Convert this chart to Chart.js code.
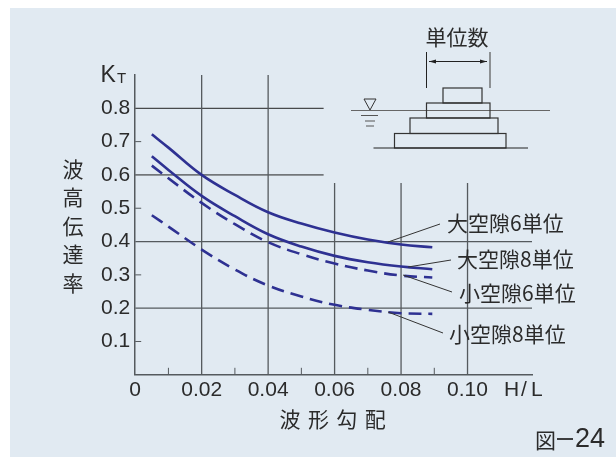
<!DOCTYPE html>
<html>
<head>
<meta charset="utf-8">
<script src="https://cdn.jsdelivr.net/npm/chart.js@4"></script>
<style>
html, body { margin: 0; padding: 0; background: #fff; overflow: hidden; }
#wrap { width: 616px; height: 457px; position: relative; }
#panel { position: absolute; left: 10px; top: 8px; right: 0; bottom: 0; background: #e1eaf2; }
canvas { position: absolute; left: 0; top: 0; }
</style>
</head>
<body>
<div id="wrap"><div id="panel"></div><canvas id="myChart" width="616" height="457"></canvas></div>
<script>
// wave steepness H/L against transmission coefficient KT
const steepness = [0.005, 0.01, 0.02, 0.03, 0.04, 0.05, 0.06, 0.07, 0.08, 0.0894];
const large6 = [0.722, 0.682, 0.600, 0.540, 0.488, 0.454, 0.427, 0.406, 0.391, 0.383];
const large8 = [0.656, 0.615, 0.537, 0.476, 0.422, 0.385, 0.357, 0.338, 0.325, 0.317];
const small6 = [0.628, 0.590, 0.516, 0.452, 0.398, 0.362, 0.334, 0.313, 0.298, 0.292];
const small8 = [0.479, 0.445, 0.376, 0.316, 0.268, 0.235, 0.210, 0.195, 0.185, 0.183];

const xTickLabels = ['0', '0.02', '0.04', '0.06', '0.08', '0.10'];
const yTickLabels = ['0.1', '0.2', '0.3', '0.4', '0.5', '0.6', '0.7', '0.8'];

// grid lines only run part of the way in the original
const longVertical = [0.02, 0.04];
const shortVertical = [0.06, 0.08, 0.10];
const minorX = [0.01, 0.03, 0.05, 0.07, 0.09];
const minorY = [0.1, 0.3, 0.5, 0.7];
const xMax = 0.1194, yMax = 0.9;
const shortVerticalTop = 0.576, shortHorizontalEnd = 0.0567;

const BLUE = '#2e3192';
const INK = '#2b2b2b';
const GRID = '#555a5e';
const JP = '"Noto Sans CJK JP"';
const LATIN = '"Liberation Sans"';

function pts(ys) {
    return steepness.map((x, i) => ({ x: x, y: ys[i] }));
}
function curve(ys, dash) {
    return {
        data: pts(ys), borderColor: BLUE, borderWidth: 2.6, borderDash: dash,
        pointRadius: 0, tension: 0.4, fill: false, order: 1
    };
}
function rule(a, b, color, width) {
    return {
        data: [a, b], borderColor: color, borderWidth: width,
        pointRadius: 0, fill: false, order: 2
    };
}

const datasets = [
    curve(large6, []),
    curve(large8, []),
    curve(small6, [13, 7]),
    curve(small8, [13, 7])
];
for (let x of longVertical) {
    datasets.push(rule({ x: x, y: 0 }, { x: x, y: yMax }, GRID, 1.3));
}
for (let x of shortVertical) {
    datasets.push(rule({ x: x, y: 0 }, { x: x, y: shortVerticalTop }, GRID, 1.3));
}
datasets.push(rule({ x: 0, y: 0.8 }, { x: shortHorizontalEnd, y: 0.8 }, '#222', 1));
datasets.push(rule({ x: 0, y: 0.6 }, { x: shortHorizontalEnd, y: 0.6 }, '#222', 1));
datasets.push(rule({ x: 0, y: 0.4 }, { x: xMax, y: 0.4 }, GRID, 1.2));
datasets.push(rule({ x: 0, y: 0.2 }, { x: xMax, y: 0.2 }, GRID, 1.2));

// labels, leader lines and the small breakwater sketch
const overlay = {
    id: 'overlay',
    afterDraw(chart) {
        const c = chart.ctx;
        const sx = chart.scales.x, sy = chart.scales.y;
        function line(x1, y1, x2, y2, w, col) {
            c.beginPath();
            c.moveTo(x1, y1);
            c.lineTo(x2, y2);
            c.lineWidth = w;
            c.strokeStyle = col || INK;
            c.stroke();
        }
        function text(s, x, y, size, font, align) {
            c.font = size + 'px ' + font;
            c.fillStyle = INK;
            c.textAlign = align || 'left';
            c.textBaseline = 'middle';
            c.fillText(s, x, y);
        }
        c.save();

        // minor ticks pointing into the plot
        for (let v of minorX) {
            line(sx.getPixelForValue(v), sy.bottom, sx.getPixelForValue(v), sy.bottom - 7, 1, GRID);
        }
        for (let v of minorY) {
            line(sx.left, sy.getPixelForValue(v), sx.left + 6, sy.getPixelForValue(v), 1, GRID);
        }

        // axis captions
        text('K', 100.5, 76, 23, LATIN);
        text('T', 117, 79, 15, LATIN);
        text('H', 504, 390, 21, LATIN);
        text('/', 521, 390, 21, LATIN);
        text('L', 531, 390, 21, LATIN);
        ['波', '高', '伝', '達', '率'].forEach((s, i) => text(s, 73, 169 + i * 28.5, 21, JP, 'center'));
        ['波', '形', '勾', '配'].forEach((s, i) => text(s, 290 + i * 28.4, 419, 21, JP, 'center'));
        text('図', 535, 440, 21, JP);
        line(557, 439, 573, 439, 1.8);
        text('24', 575, 440, 27, LATIN);

        // curve labels and leaders
        text('大空隙6単位', 447, 223, 21, JP);
        text('大空隙8単位', 457, 259, 21, JP);
        text('小空隙6単位', 459, 293, 21, JP);
        text('小空隙8単位', 449, 334, 21, JP);
        line(388, 242, 440, 224, 1, '#333');
        line(408, 267, 451, 260, 1, '#333');
        line(403, 275, 452, 292, 1, '#333');
        line(388, 312, 443, 333, 1, '#333');

        // breakwater sketch
        text('単位数', 457, 37, 21, JP, 'center');
        line(426.5, 52, 426.5, 88, 1, '#222');
        line(490, 52, 490, 88, 1.2, '#555');
        line(429, 61.5, 487, 61.5, 1, '#222');
        c.fillStyle = '#222';
        c.beginPath();
        c.moveTo(429, 61.5); c.lineTo(436, 59.5); c.lineTo(436, 63.5);
        c.closePath(); c.fill();
        c.beginPath();
        c.moveTo(487, 61.5); c.lineTo(480, 59.5); c.lineTo(480, 63.5);
        c.closePath(); c.fill();

        line(351, 110.5, 550, 110.5, 1.2, '#666');
        c.strokeStyle = '#333';
        c.lineWidth = 1.2;
        for (let b of [[443, 88, 39, 15], [426.5, 103, 63.5, 15], [410, 118, 88, 15.5], [394.5, 133.5, 111.5, 14.5]]) {
            c.strokeRect(b[0], b[1], b[2], b[3]);
        }
        line(373.5, 148, 528, 148, 1.2, '#222');
        c.lineWidth = 1;
        c.strokeStyle = '#333';
        c.beginPath();
        c.moveTo(364, 99); c.lineTo(376, 99); c.lineTo(370, 110);
        c.closePath(); c.stroke();
        line(361, 115.5, 378, 115.5, 1, '#555');
        line(365, 121, 375, 121, 1, '#555');
        line(366, 126, 374, 126, 1, '#555');
        c.restore();
    }
};

const ctx = document.getElementById('myChart');
new Chart(ctx, {
    type: 'line',
    data: { datasets: datasets },
    plugins: [overlay],
    options: {
        responsive: false,
        animation: false,
        layout: { padding: { left: 96, top: 75, right: 84, bottom: 51 } },
        plugins: { legend: { display: false }, tooltip: { enabled: false } },
        scales: {
            x: {
                type: 'linear', min: 0, max: xMax,
                afterBuildTicks(axis) {
                    axis.ticks = xTickLabels.map(s => ({ value: parseFloat(s) }));
                },
                grid: { display: false, tickLength: 0 },
                border: { display: true, color: GRID, width: 1.5 },
                ticks: {
                    maxRotation: 0, padding: 3, color: INK, autoSkip: false,
                    font: { family: LATIN, size: 21 },
                    callback: v => xTickLabels.find(s => parseFloat(s) === v)
                }
            },
            y: {
                type: 'linear', min: 0, max: yMax,
                afterBuildTicks(axis) {
                    axis.ticks = yTickLabels.map(s => ({ value: parseFloat(s) }));
                },
                grid: { display: false, tickLength: 0 },
                border: { display: true, color: GRID, width: 1.5 },
                ticks: {
                    padding: 5, color: INK, autoSkip: false,
                    font: { family: LATIN, size: 21 },
                    callback: v => yTickLabels.find(s => parseFloat(s) === v)
                }
            }
        }
    }
});
</script>
</body>
</html>
